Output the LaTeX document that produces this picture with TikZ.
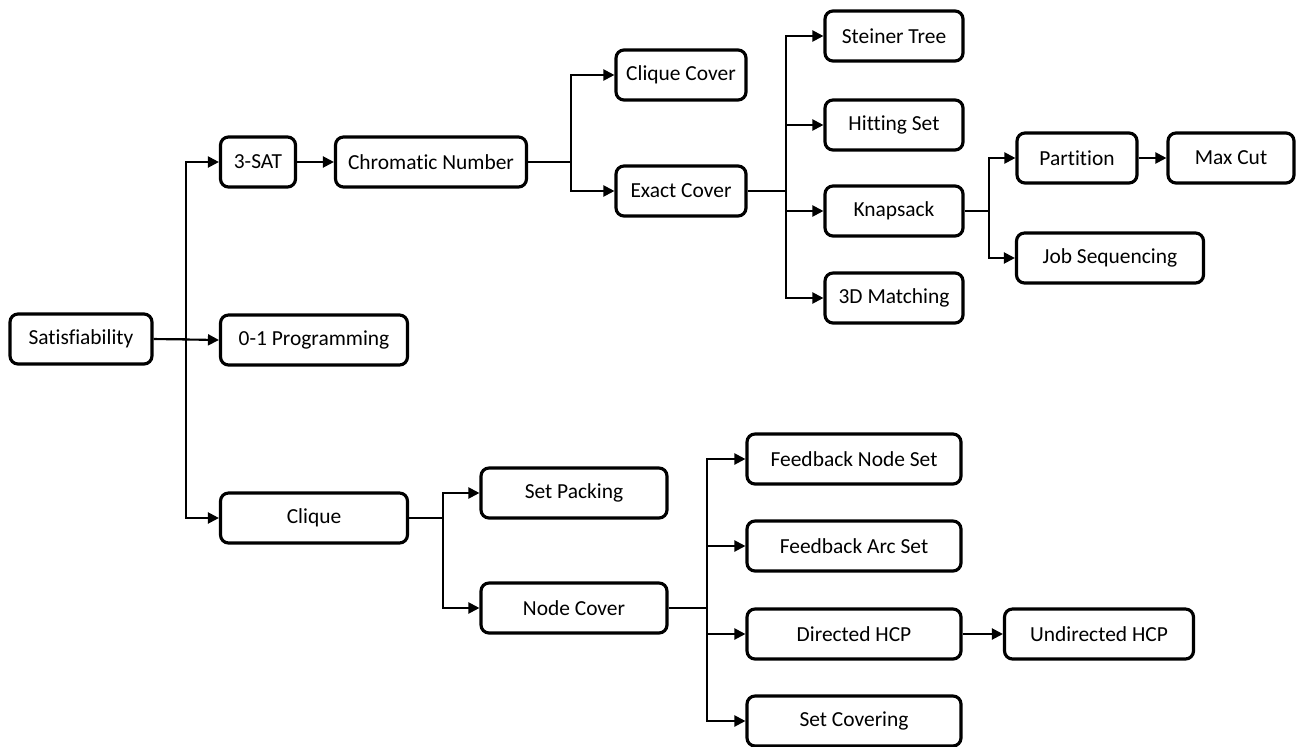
\documentclass[tikz,border=0pt]{standalone}
\usepackage{fontspec}
\setmainfont{Carlito}[Ligatures=NoCommon]
\usetikzlibrary{arrows.meta}
\begin{document}
\begin{tikzpicture}[x=0.02cm, y=-0.02cm]

      \tikzset{problem/.style={draw, rounded corners=0.16cm, line width=1.8pt, minimum height=1cm, inner sep=2pt, font=\fontsize{12.2}{14}\selectfont},
               reduce/.style={line width=1.2pt, -{Triangle[length=2.2mm, width=2.2mm]}},
               bus/.style={line width=1.2pt}}
      \useasboundingbox (0,0) rectangle (1305,747);
%% Vertices
      	\node[problem, minimum width=2.84cm] (sat) at (81,339) {Satisfiability};
      	\node[problem, minimum width=1.5cm] (sat3) at (258,162) {3-SAT};
      	\node[problem, minimum width=3.82cm] (chrom) at (431,162) {Chromatic Number};
      	\node[problem, minimum width=3.74cm] (prog) at (314,340) {0-1 Programming};
      	\node[problem, minimum width=3.74cm] (clique) at (314,518) {Clique};
      	\node[problem, minimum width=2.6cm] (cliquecov) at (681,75) {Clique Cover};
      	\node[problem, minimum width=2.6cm] (exact) at (681,191) {Exact Cover};
      	\node[problem, minimum width=2.76cm] (steiner) at (894,36) {Steiner Tree};
      	\node[problem, minimum width=2.76cm] (hitting) at (894,125) {Hitting Set};
      	\node[problem, minimum width=2.76cm] (knap) at (894,211) {Knapsack};
      	\node[problem, minimum width=2.76cm] (match) at (894,298) {3D Matching};
      	\node[problem, minimum width=2.4cm] (part) at (1077,158) {Partition};
      	\node[problem, minimum width=2.52cm] (maxcut) at (1231,158) {Max Cut};
      	\node[problem, minimum width=3.74cm] (jobseq) at (1110,258) {Job Sequencing};
      	\node[problem, minimum width=3.72cm] (setpack) at (574,493) {Set Packing};
      	\node[problem, minimum width=3.72cm] (nodecov) at (574,608) {Node Cover};
      	\node[problem, minimum width=4.28cm] (fbnode) at (854,459) {Feedback Node Set};
      	\node[problem, minimum width=4.28cm] (fbarc) at (854,546) {Feedback Arc Set};
      	\node[problem, minimum width=4.28cm] (dhcp) at (854,634) {Directed HCP};
      	\node[problem, minimum width=3.78cm] (uhcp) at (1099,634) {Undirected HCP};
      	\node[problem, minimum width=4.28cm] (setcov) at (854,721) {Set Covering};

%Bus lines
      	\coordinate (b1) at (186,0);
      	\coordinate (b2) at (571,0);
      	\coordinate (b3) at (786,0);
      	\coordinate (b4) at (989,0);
      	\coordinate (b5) at (443,0);
      	\coordinate (b6) at (707,0);

%Edges
		\draw[bus] (sat.east) -- (sat.east -| b1);
		\draw[reduce] (sat.east -| b1) |- (sat3.west);
		\draw[reduce] (sat.east) -- (prog.west);
		\draw[reduce] (sat.east -| b1) |- (clique.west);
		\draw[reduce] (sat3.east) -- (chrom.west);
		\draw[bus] (chrom.east) -- (chrom.east -| b2);
		\draw[reduce] (chrom.east -| b2) |- (cliquecov.west);
		\draw[reduce] (chrom.east -| b2) |- (exact.west);
		\draw[bus] (exact.east) -- (exact.east -| b3);
		\draw[reduce] (exact.east -| b3) |- (steiner.west);
		\draw[reduce] (exact.east -| b3) |- (hitting.west);
		\draw[reduce] (exact.east -| b3) |- (knap.west);
		\draw[reduce] (exact.east -| b3) |- (match.west);
		\draw[bus] (knap.east) -- (knap.east -| b4);
		\draw[reduce] (knap.east -| b4) |- (part.west);
		\draw[reduce] (knap.east -| b4) |- (jobseq.west);
		\draw[reduce] (part.east) -- (maxcut.west);
		\draw[bus] (clique.east) -- (clique.east -| b5);
		\draw[reduce] (clique.east -| b5) |- (setpack.west);
		\draw[reduce] (clique.east -| b5) |- (nodecov.west);
		\draw[bus] (nodecov.east) -- (nodecov.east -| b6);
		\draw[reduce] (nodecov.east -| b6) |- (fbnode.west);
		\draw[reduce] (nodecov.east -| b6) |- (fbarc.west);
		\draw[reduce] (nodecov.east -| b6) |- (dhcp.west);
		\draw[reduce] (nodecov.east -| b6) |- (setcov.west);
		\draw[reduce] (dhcp.east) -- (uhcp.west);
	\end{tikzpicture}
\end{document}
